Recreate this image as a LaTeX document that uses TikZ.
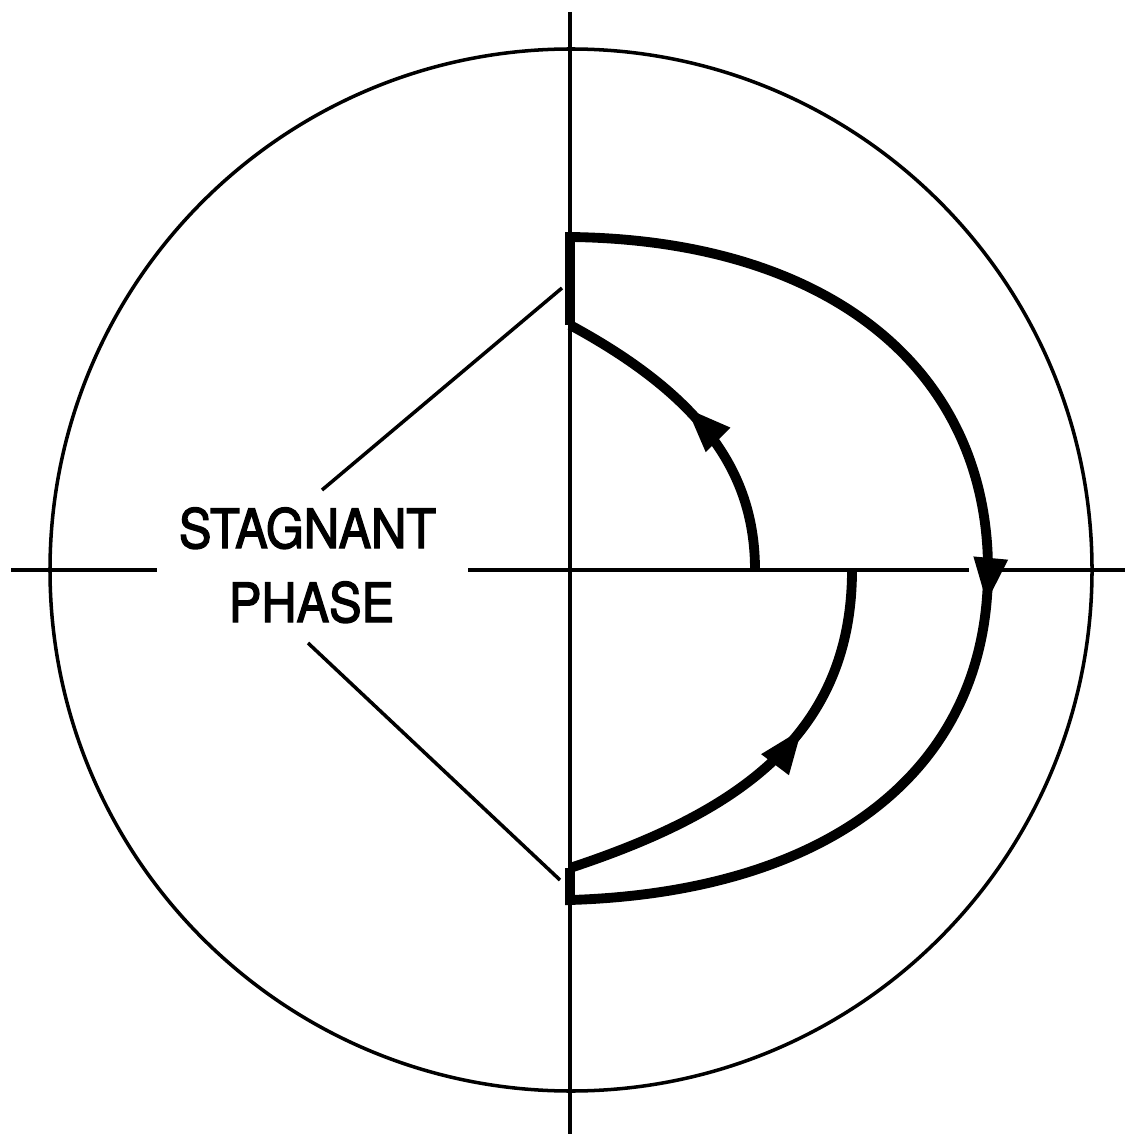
\documentclass[tikz,border=0pt]{standalone}
\usepackage{fontspec}
\setmainfont{TeX Gyre Heros}
\newfontfamily\lblfont[FakeBold=2.6]{TeX Gyre Heros}
\usetikzlibrary{arrows.meta,decorations.markings}
\begin{document}
\begin{tikzpicture}[x=0.01cm,y=-0.01cm,
  thinline/.style={line width=1pt},
  traj/.style={line width=2.8pt},
  midtip/.style={decoration={markings,mark=at position #1 with {\arrow{Triangle[length=13pt,width=9pt]}}},postaction={decorate}},
  lbl/.style={font=\lblfont\fontsize{15.4}{21}\selectfont, inner sep=0pt, xscale=0.9, anchor=base}
]
\useasboundingbox (0,0) rectangle (1133,1134);
% outer circle
\draw[thinline] (571,570) circle[radius=521];
% axes
\coordinate (vt) at (570,12);
\coordinate (vb) at (570,1134);
\coordinate (hl1) at (11,570);
\coordinate (hl2) at (157,570);
\coordinate (hr1) at (468,570);
\coordinate (hr2) at (969,570);
\coordinate (hr3) at (1002,570);
\coordinate (hr4) at (1125,570);
\draw[thinline] (vt) -- (vb);
\draw[thinline] (hl1) -- (hl2);
\draw[thinline] (hr1) -- (hr2);
\draw[thinline] (hr3) -- (hr4);
% trajectories
\coordinate (a) at (570,325);
\coordinate (b) at (570,237);
\coordinate (c) at (988,570);
\coordinate (d) at (570,900);
\coordinate (e) at (570,868);
\coordinate (f) at (755,570);
\coordinate (g) at (852,570);
\draw[traj, midtip=0.548] (a) -- (b) .. controls (830,240) and (988,370) .. (c)
  .. controls (988,770) and (830,892) .. (d) -- (e);
\draw[traj, midtip=0.56] (f) .. controls (755,475) and (705,398) .. (a);
\draw[traj, midtip=0.62] (e) .. controls (730,815) and (852,740) .. (g);
% label
\node[lbl] (stag) at (307.5,548) {STAGNANT};
\node[lbl] (phase) at (311.5,622) {PHASE};
\coordinate (l1a) at (322,490);
\coordinate (l1b) at (562,288);
\coordinate (l2a) at (308,643);
\coordinate (l2b) at (560,880);
\draw[thinline] (l1a) -- (l1b);
\draw[thinline] (l2a) -- (l2b);
\end{tikzpicture}
\end{document}
